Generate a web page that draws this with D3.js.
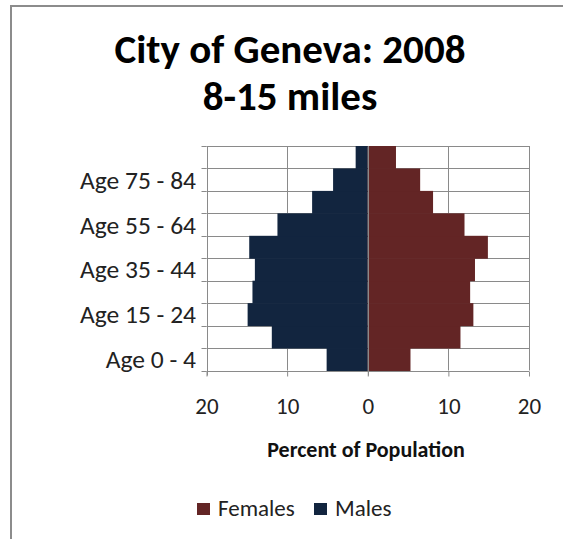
<!DOCTYPE html>
<html>
<head>
<meta charset="utf-8">
<script src="https://cdn.jsdelivr.net/npm/d3@7"></script>
<style>
  html, body { margin: 0; padding: 0; background: #fff; }
  svg { display: block; }
</style>
</head>
<body>
<svg id="chart" width="563" height="539"></svg>
<script>
// Age groups, bottom to top
const ageGroups = ["Age 0 - 4", "Age 5 - 14", "Age 15 - 24", "Age 25 - 34", "Age 35 - 44",
                   "Age 45 - 54", "Age 55 - 64", "Age 65 - 74", "Age 75 - 84", "Age 85+"];
// Percent of population by sex
const malesPct   = [5.1, 11.9, 14.9, 14.3, 14.0, 14.7, 11.2, 6.9, 4.3, 1.5];
const femalesPct = [5.3, 11.5, 13.1, 12.7, 13.3, 14.9, 12.0, 8.1, 6.5, 3.5];
// Only every other age group is labelled on the axis
const shownLabels = ["Age 0 - 4", "Age 15 - 24", "Age 35 - 44", "Age 55 - 64", "Age 75 - 84"];
const xTicks = [-20, -10, 0, 10, 20];
const seriesNames = ["Females", "Males"];
const seriesColors = { Females: "#632525", Males: "#12253f" };

const font = "Carlito, Lato, 'Liberation Sans', sans-serif";
const svg = d3.select("#chart");

// Frame around the chart area
svg.append("path")
  .attr("d", "M11,539 L11,6 L563,6")
  .attr("fill", "none")
  .attr("stroke", "#8c8c8c")
  .attr("stroke-width", 2);

// Title
const title = svg.append("text")
  .attr("text-anchor", "middle")
  .attr("font-family", font)
  .attr("font-weight", "bold")
  .attr("font-size", 41)
  .attr("fill", "#000");
title.append("tspan").attr("x", 290).attr("y", 63).text("City of Geneva: 2008");
title.append("tspan").attr("x", 290).attr("y", 110).text("8-15 miles");

const plot = { left: 206.5, right: 529, top: 146, bottom: 370.5 };

const x = d3.scaleLinear().domain([-20, 20]).range([plot.left, plot.right]);
const y = d3.scaleBand().domain(ageGroups).range([plot.bottom, plot.top]).padding(0);

// Vertical gridlines
svg.append("g").selectAll("line")
  .data(xTicks.filter(t => t !== 0))
  .join("line")
  .attr("x1", d => Math.round(x(d)) + 0.5).attr("x2", d => Math.round(x(d)) + 0.5)
  .attr("y1", plot.top).attr("y2", plot.bottom)
  .attr("stroke", "#8a8a8a").attr("stroke-width", 1);

// Horizontal gridlines at category boundaries
const bounds = ageGroups.map(a => y(a)).concat([plot.bottom]);
svg.append("g").selectAll("line")
  .data(bounds)
  .join("line")
  .attr("x1", plot.left).attr("x2", plot.right)
  .attr("y1", d => Math.round(d) + 0.5).attr("y2", d => Math.round(d) + 0.5)
  .attr("stroke", "#8a8a8a").attr("stroke-width", 1);

// Male bars (left of zero)
svg.append("g").selectAll("rect")
  .data(ageGroups.map((a, i) => ({ age: a, v: malesPct[i] })))
  .join("rect")
  .attr("x", d => x(-d.v)).attr("width", d => x(0) - x(-d.v))
  .attr("y", d => y(d.age)).attr("height", y.bandwidth() + 0.5)
  .attr("fill", seriesColors.Males);

// Female bars (right of zero)
svg.append("g").selectAll("rect")
  .data(ageGroups.map((a, i) => ({ age: a, v: femalesPct[i] })))
  .join("rect")
  .attr("x", x(0)).attr("width", d => x(d.v) - x(0))
  .attr("y", d => y(d.age)).attr("height", y.bandwidth() + 0.5)
  .attr("fill", seriesColors.Females);

// Bottom axis with absolute percent labels
const xAxis = d3.axisBottom(x).tickValues(xTicks).tickFormat(d => Math.abs(d)).tickSize(5).tickPadding(21);
const gx = svg.append("g").attr("transform", `translate(0,${Math.round(plot.bottom) + 0.5})`).call(xAxis);
gx.select(".domain").remove();
gx.selectAll(".tick line").attr("stroke", "#8a8a8a");
gx.selectAll(".tick text").attr("font-family", font).attr("font-size", 23).attr("fill", "#222");

// Zero line
svg.append("line")
  .attr("x1", Math.round(x(0)) + 0.5).attr("x2", Math.round(x(0)) + 0.5)
  .attr("y1", plot.top).attr("y2", plot.bottom + 5)
  .attr("stroke", "#8a8a8a").attr("stroke-width", 1);

// Left axis line with ticks at band boundaries
svg.append("line")
  .attr("x1", Math.round(plot.left) + 0.5).attr("x2", Math.round(plot.left) + 0.5)
  .attr("y1", plot.top).attr("y2", plot.bottom + 5)
  .attr("stroke", "#8a8a8a");
svg.append("g").selectAll("line")
  .data(bounds)
  .join("line")
  .attr("x1", plot.left - 5).attr("x2", plot.left)
  .attr("y1", d => Math.round(d) + 0.5).attr("y2", d => Math.round(d) + 0.5)
  .attr("stroke", "#8a8a8a");

// Category labels
svg.append("g").selectAll("text")
  .data(shownLabels)
  .join("text")
  .attr("x", 196)
  .attr("y", d => y(d) + y.bandwidth() / 2)
  .attr("dy", "0.35em")
  .attr("text-anchor", "end")
  .attr("font-family", font).attr("font-size", 25.5).attr("fill", "#222")
  .text(d => d);

// Axis title
svg.append("text")
  .attr("x", 366).attr("y", 457)
  .attr("text-anchor", "middle")
  .attr("font-family", font).attr("font-weight", "bold").attr("font-size", 22).attr("fill", "#111")
  .text("Percent of Population");

// Legend
const legendItems = [{ name: seriesNames[0], x: 197 }, { name: seriesNames[1], x: 314 }];
const lg = svg.append("g").selectAll("g").data(legendItems).join("g")
  .attr("transform", d => `translate(${d.x},503)`);
lg.append("rect").attr("width", 13).attr("height", 12).attr("fill", d => seriesColors[d.name]);
lg.append("text").attr("x", 21).attr("y", 13)
  .attr("font-family", font).attr("font-size", 23).attr("fill", "#222")
  .text(d => d.name);
</script>
</body>
</html>
